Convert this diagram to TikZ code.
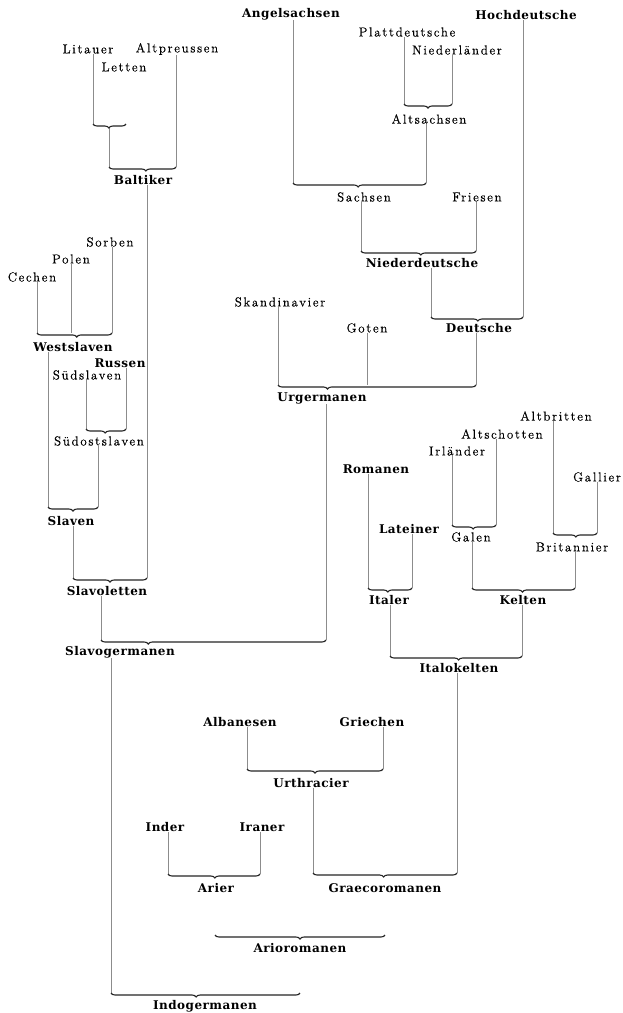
\documentclass[tikz,border=0pt]{standalone}
\usepackage{fontspec}
\usetikzlibrary{decorations.pathreplacing}
\newfontfamily\lblboldfam{DejaVu Serif}[LetterSpace=4]
\newfontfamily\lblregfam{Latin Modern Roman}[LetterSpace=13,FakeBold=0.4]
\tikzset{
 lab/.style={font=\lblregfam\fontsize{13}{15}\selectfont, inner sep=0pt, text=black},
 blab/.style={font=\lblboldfam\bfseries\fontsize{12}{14}\selectfont, inner sep=0pt},
 conn/.style={draw=black!45, line width=0.5pt},
 brc/.style={draw=black!85, line width=1.1pt, decorate, decoration={brace, mirror, amplitude=4pt, aspect=#1}},
 brc/.default=0.5
}
\begin{document}
\begin{tikzpicture}[x=1pt,y=-1pt]
\fill[white] (0,0) rectangle (622,1013);
\useasboundingbox (0,0) rectangle (622,1013);
% labels
\node[blab] (ang) at (291,14) {Angelsachsen};
\node[blab] (hoch) at (526,15) {Hochdeutsche};
\node[lab] (platt) at (407,32) {Plattdeutsche};
\node[lab] (nieder) at (457,50) {Niederländer};
\node[lab] (lit) at (88,49) {Litauer};
\node[lab] (altp) at (177,49) {Altpreussen};
\node[lab] (let) at (124,67) {Letten};
\node[lab] (altsa) at (429,119) {Altsachsen};
\node[blab] (balt) at (143,180) {Baltiker};
\node[lab] (sach) at (364,197) {Sachsen};
\node[lab] (fries) at (477,197) {Friesen};
\node[lab] (sorb) at (110,242) {Sorben};
\node[lab] (polen) at (71,259) {Polen};
\node[lab] (cech) at (32,277) {Cechen};
\node[blab] (ndd) at (422,263) {Niederdeutsche};
\node[lab] (skand) at (280,302) {Skandinavier};
\node[lab] (goten) at (367,328) {Goten};
\node[blab] (deut) at (479,328) {Deutsche};
\node[blab] (west) at (73,347) {Westslaven};
\node[blab] (russ) at (120,363) {Russen};
\node[lab] (suedsl) at (87,375) {Südslaven};
\node[blab] (urg) at (322,398) {Urgermanen};
\node[lab] (altbr) at (556,416) {Altbritten};
\node[lab] (suedost) at (99,441) {Südostslaven};
\node[lab] (altsch) at (502,434) {Altschotten};
\node[lab] (irl) at (457,451) {Irländer};
\node[blab] (rom) at (376,469) {Romanen};
\node[lab] (gall) at (597,477) {Gallier};
\node[blab] (slaven) at (71,521) {Slaven};
\node[blab] (lat) at (409,529) {Lateiner};
\node[lab] (galen) at (471,537) {Galen};
\node[lab] (brit) at (572,547) {Britannier};
\node[blab] (slavol) at (107,591) {Slavoletten};
\node[blab] (italer) at (389,600) {Italer};
\node[blab] (kelten) at (523,600) {Kelten};
\node[blab] (slavog) at (120,652) {Slavogermanen};
\node[blab] (italok) at (459,668) {Italokelten};
\node[blab] (alb) at (240,722) {Albanesen};
\node[blab] (griech) at (372,722) {Griechen};
\node[blab] (urth) at (311,783) {Urthracier};
\node[blab] (inder) at (165,827) {Inder};
\node[blab] (iran) at (262,827) {Iraner};
\node[blab] (arier) at (216,888) {Arier};
\node[blab] (graeco) at (385,888) {Graecoromanen};
\node[blab] (ario) at (300,948) {Arioromanen};
\node[blab] (indog) at (205,1006) {Indogermanen};
% brace end points
\coordinate (b1l) at (93,124); \coordinate (b1r) at (126,124); \coordinate (b1t) at (109,128);
\coordinate (b2l) at (109,167); \coordinate (b2r) at (176,167);
\coordinate (b3l) at (37,333); \coordinate (b3r) at (112,333);
\coordinate (b4l) at (86,429); \coordinate (b4r) at (126,429);
\coordinate (b5l) at (48,507); \coordinate (b5r) at (98,507);
\coordinate (b6l) at (73,578); \coordinate (b6r) at (147,578);
\coordinate (b7l) at (101,640); \coordinate (b7r) at (326,640);
\coordinate (b8l) at (111,993); \coordinate (b8r) at (300,993);
\coordinate (b9l) at (404,104); \coordinate (b9r) at (452,104);
\coordinate (b10l) at (293,183); \coordinate (b10r) at (426,183);
\coordinate (b11l) at (361,251); \coordinate (b11r) at (476,251);
\coordinate (b12l) at (431,317); \coordinate (b12r) at (523,317);
\coordinate (b13l) at (278,385); \coordinate (b13r) at (476,385);
\coordinate (b14l) at (452,525); \coordinate (b14r) at (496,525);
\coordinate (b15l) at (553,533); \coordinate (b15r) at (597,533);
\coordinate (b16l) at (472,588); \coordinate (b16r) at (575,588);
\coordinate (b17l) at (368,588); \coordinate (b17r) at (412,588);
\coordinate (b18l) at (390,656); \coordinate (b18r) at (522,656);
\coordinate (b19l) at (247,769); \coordinate (b19r) at (383,769);
\coordinate (b20l) at (313,873); \coordinate (b20r) at (457,873);
\coordinate (b21l) at (168,874); \coordinate (b21r) at (260,874);
\coordinate (b22l) at (215,935); \coordinate (b22r) at (385,935);
% connectors
\draw[conn] (lit.south -| b1l) -- (b1l);
\draw[conn] (b1t) -- (b2l);
\draw[conn] (altp.south -| b2r) -- (b2r);
\draw[conn] (balt.south -| b6r) -- (b6r);
\draw[conn] (cech.south -| b3l) -- (b3l);
\draw[conn] (polen.south) -- (polen.south |- b3l);
\draw[conn] (sorb.south -| b3r) -- (b3r);
\draw[conn] (west.south -| b5l) -- (b5l);
\draw[conn] (suedsl.south -| b4l) -- (b4l);
\draw[conn] (russ.south -| b4r) -- (b4r);
\draw[conn] (suedost.south -| b5r) -- (b5r);
\draw[conn] (slaven.south -| b6l) -- (b6l);
\draw[conn] (slavol.south -| b7l) -- (b7l);
\draw[conn] (slavog.south -| b8l) -- (b8l);
\draw[conn] (platt.south -| b9l) -- (b9l);
\draw[conn] (nieder.south -| b9r) -- (b9r);
\draw[conn] (altsa.south -| b10r) -- (b10r);
\draw[conn] (ang.south -| b10l) -- (b10l);
\draw[conn] (sach.south -| b11l) -- (b11l);
\draw[conn] (fries.south -| b11r) -- (b11r);
\draw[conn] (ndd.south -| b12l) -- (b12l);
\draw[conn] (hoch.south -| b12r) -- (b12r);
\draw[conn] (skand.south -| b13l) -- (b13l);
\draw[conn] (goten.south) -- (goten.south |- b13l);
\draw[conn] (deut.south -| b13r) -- (b13r);
\draw[conn] (urg.south -| b7r) -- (b7r);
\draw[conn] (irl.south -| b14l) -- (b14l);
\draw[conn] (altsch.south -| b14r) -- (b14r);
\draw[conn] (altbr.south -| b15l) -- (b15l);
\draw[conn] (gall.south -| b15r) -- (b15r);
\draw[conn] (galen.south -| b16l) -- (b16l);
\draw[conn] (brit.south -| b16r) -- (b16r);
\draw[conn] (rom.south -| b17l) -- (b17l);
\draw[conn] (lat.south -| b17r) -- (b17r);
\draw[conn] (italer.south -| b18l) -- (b18l);
\draw[conn] (kelten.south -| b18r) -- (b18r);
\draw[conn] (italok.south -| b20r) -- (b20r);
\draw[conn] (alb.south -| b19l) -- (b19l);
\draw[conn] (griech.south -| b19r) -- (b19r);
\draw[conn] (urth.south -| b20l) -- (b20l);
\draw[conn] (inder.south -| b21l) -- (b21l);
\draw[conn] (iran.south -| b21r) -- (b21r);
% braces
\draw[brc=0.48] (b1l) -- (b1r);
\draw[brc=0.55] (b2l) -- (b2r);
\draw[brc=0.53] (b3l) -- (b3r);
\draw[brc=0.48] (b4l) -- (b4r);
\draw[brc=0.5] (b5l) -- (b5r);
\draw[brc=0.5] (b6l) -- (b6r);
\draw[brc=0.21] (b7l) -- (b7r);
\draw[brc=0.45] (b8l) -- (b8r);
\draw[brc=0.5] (b9l) -- (b9r);
\draw[brc=0.49] (b10l) -- (b10r);
\draw[brc=0.52] (b11l) -- (b11r);
\draw[brc=0.51] (b12l) -- (b12r);
\draw[brc=0.25] (b13l) -- (b13r);
\draw[brc=0.48] (b14l) -- (b14r);
\draw[brc=0.52] (b15l) -- (b15r);
\draw[brc=0.49] (b16l) -- (b16r);
\draw[brc=0.45] (b17l) -- (b17r);
\draw[brc=0.52] (b18l) -- (b18r);
\draw[brc=0.5] (b19l) -- (b19r);
\draw[brc=0.49] (b20l) -- (b20r);
\draw[brc=0.51] (b21l) -- (b21r);
\draw[brc=0.5] (b22l) -- (b22r);
\end{tikzpicture}
\end{document}
